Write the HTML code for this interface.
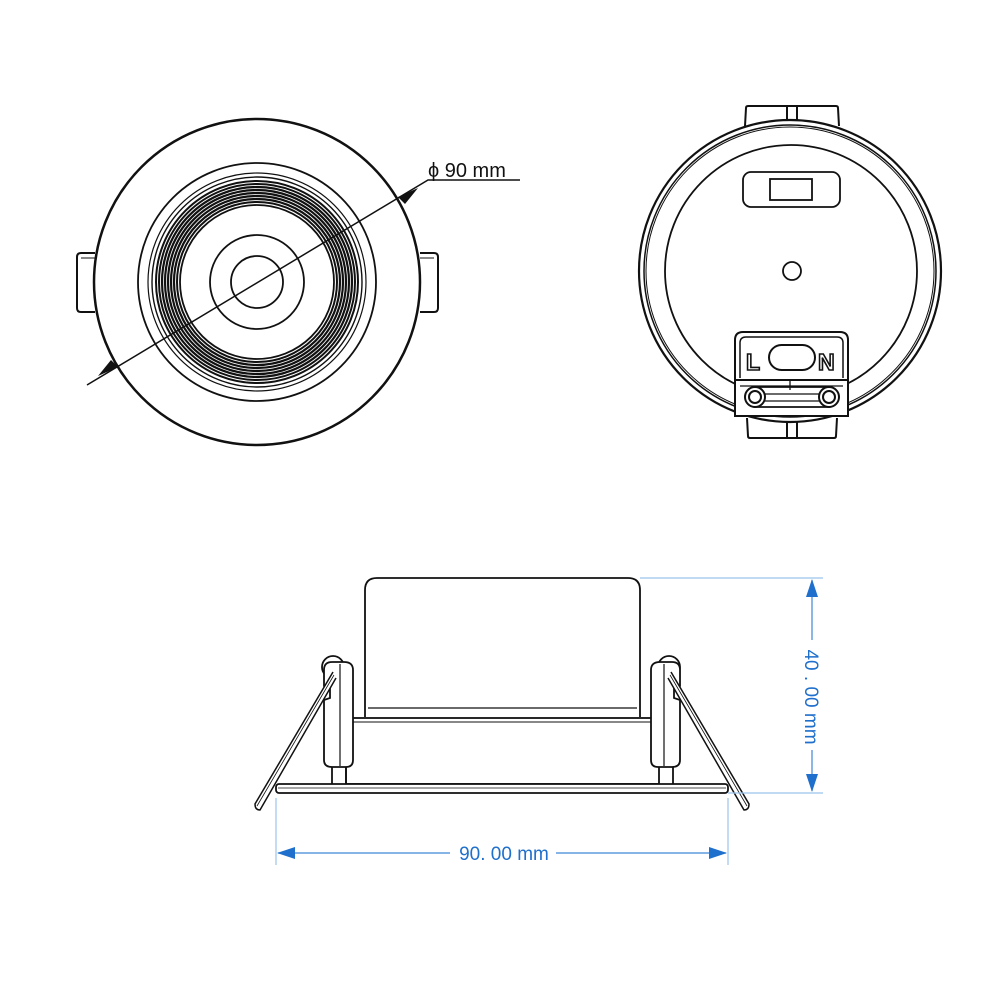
<!DOCTYPE html>
<html><head><meta charset="utf-8"><style>
html,body{margin:0;padding:0;background:#fff;}
svg{display:block;}
</style></head><body>
<svg width="1000" height="1000" viewBox="0 0 1000 1000" xmlns="http://www.w3.org/2000/svg" font-family="Liberation Sans, sans-serif">
<g fill="none" stroke="#111" stroke-width="2">
  <!-- LEFT TOP VIEW -->
  <path d="M95,253 h-14 q-4,0 -4,4 v51 q0,4 4,4 h14" />
  <line x1="81" y1="258" x2="95" y2="258" stroke-width="1"/>
  <path d="M420,253 h14 q4,0 4,4 v51 q0,4 -4,4 h-14" />
  <line x1="420" y1="258" x2="434" y2="258" stroke-width="1"/>
  <circle cx="257" cy="282" r="163" fill="#fff" stroke-width="2.5"/>
  <circle cx="257" cy="282" r="119" stroke-width="1.8"/>
  <circle cx="257" cy="282" r="109" stroke-width="1.2"/>
  <circle cx="257" cy="282" r="105" stroke-width="1.4"/>
  <circle cx="257" cy="282" r="101" stroke-width="2"/>
  <circle cx="257" cy="282" r="98" stroke-width="2"/>
  <circle cx="257" cy="282" r="95" stroke-width="2.2"/>
  <circle cx="257" cy="282" r="92" stroke-width="2.2"/>
  <circle cx="257" cy="282" r="89" stroke-width="2.2"/>
  <circle cx="257" cy="282" r="86" stroke-width="2.2"/>
  <circle cx="257" cy="282" r="83" stroke-width="2.2"/>
  <circle cx="257" cy="282" r="80" stroke-width="2"/>
  <circle cx="257" cy="282" r="77" stroke-width="1.8"/>
  <circle cx="257" cy="282" r="47" stroke-width="1.8"/>
  <circle cx="257" cy="282" r="26" stroke-width="1.8"/>
  <path d="M87,385 L428,180 H520" stroke-width="1.5"/>
</g>
<polygon points="118,367 98,376 111,360" fill="#111"/>
<polygon points="398,197 418,188 405,204" fill="#111"/>
<text x="428" y="177" font-size="20" fill="#111">ϕ 90 mm</text>

<!-- RIGHT BACK VIEW -->
<g fill="none" stroke="#111" stroke-width="2">
  <path d="M745,126 L746,108 Q746,106 748,106 H836 Q838,106 838,108 L839,126" fill="#fff"/>
  <line x1="787" y1="106" x2="787" y2="124"/><line x1="797" y1="106" x2="797" y2="124"/>
  <path d="M747,418 L748,436 Q748,438 750,438 H834 Q836,438 836,436 L837,418" fill="#fff"/>
  <line x1="787" y1="420" x2="787" y2="438"/><line x1="797" y1="420" x2="797" y2="438"/>
  <circle cx="790" cy="271" r="151" fill="#fff" stroke-width="2.2"/>
  <circle cx="790" cy="271" r="146" stroke-width="1.5"/>
  <circle cx="790" cy="271" r="144" stroke-width="1"/>
  <circle cx="791" cy="271" r="126" stroke-width="1.8"/>
  <rect x="743" y="172" width="97" height="35" rx="8" stroke-width="1.8"/>
  <rect x="770" y="179" width="42" height="21" stroke-width="1.8"/>
  <circle cx="792" cy="271" r="9" stroke-width="1.8"/>
  <path d="M735,382 V340 Q735,332 743,332 H840 Q848,332 848,340 V382" fill="#fff"/>
  <path d="M740,378 V343 Q740,337 746,337 H837 Q843,337 843,343 V378" stroke-width="1.5"/>
  <rect x="769" y="345" width="46" height="25" rx="12.5" stroke-width="2"/>
  <rect x="735" y="380" width="113" height="36" fill="#fff"/>
  <line x1="740" y1="386" x2="843" y2="386" stroke-width="1.3"/>
  <line x1="790" y1="380" x2="790" y2="390" stroke-width="1.3"/>
  <rect x="746" y="387" width="92" height="20" rx="10" stroke-width="1.8"/>
  <line x1="765" y1="394" x2="820" y2="394" stroke-width="1.3"/>
  <line x1="765" y1="401" x2="820" y2="401" stroke-width="1.3"/>
  <circle cx="755" cy="397" r="10" fill="#fff"/>
  <circle cx="755" cy="397" r="6"/>
  <circle cx="829" cy="397" r="10" fill="#fff"/>
  <circle cx="829" cy="397" r="6"/>
</g>
<text x="746" y="370" font-size="23" font-weight="bold" fill="#fff" stroke="#111" stroke-width="1.6">L</text>
<text x="818" y="370" font-size="23" font-weight="bold" fill="#fff" stroke="#111" stroke-width="1.6">N</text>

<!-- SIDE VIEW -->
<g fill="none" stroke="#111" stroke-width="1.8">
  <path d="M365,717 V590 Q365,578 377,578 H628 Q640,578 640,590 V717"/>
  <line x1="368" y1="708" x2="637" y2="708" stroke-width="1.2"/>
  <rect x="346" y="718" width="313" height="66" fill="#fff"/>
  <line x1="346" y1="722" x2="659" y2="722" stroke-width="1"/>
  <line x1="332" y1="767" x2="332" y2="784"/><line x1="346" y1="767" x2="346" y2="784"/>
  <line x1="673" y1="767" x2="673" y2="784"/>
  <rect x="276" y="784" width="452" height="9" rx="3" fill="#fff"/>
  <line x1="278" y1="788" x2="726" y2="788" stroke-width="0.8"/>
  <circle cx="333" cy="667" r="11" fill="#fff"/>
  <path d="M324,670 Q324,662 332,662 H344 Q353,662 353,670 V760 Q353,767 346,767 H332 Q324,767 324,760 V700 L330,698 V688 L324,686 Z" fill="#fff"/>
  <line x1="340" y1="664" x2="340" y2="766" stroke-width="1.2"/>
  <path d="M333,672 L255,804 Q255,810 260,810 L336,678" fill="#fff" stroke-width="1.5"/>
  <line x1="334" y1="675" x2="257" y2="806" stroke-width="0.8"/>
  <circle cx="669" cy="667" r="11" fill="#fff"/>
  <path d="M680,670 Q680,662 672,662 H660 Q651,662 651,670 V760 Q651,767 658,767 H672 Q680,767 680,760 V700 L674,698 V688 L680,686 Z" fill="#fff"/>
  <line x1="664" y1="664" x2="664" y2="766" stroke-width="1.2"/>
  <path d="M671,672 L749,804 Q749,810 744,810 L668,678" fill="#fff" stroke-width="1.5"/>
  <line x1="670" y1="675" x2="747" y2="806" stroke-width="0.8"/>
</g>

<!-- BLUE DIMENSIONS -->
<g stroke="#9cc3ec" stroke-width="1.2">
  <line x1="640" y1="578" x2="823" y2="578"/>
  <line x1="728" y1="793" x2="823" y2="793"/>
  <line x1="276" y1="798" x2="276" y2="865"/>
  <line x1="728" y1="798" x2="728" y2="865"/>
</g>
<g stroke="#3f86d6" stroke-width="1.2">
  <line x1="812" y1="580" x2="812" y2="640"/>
  <line x1="812" y1="750" x2="812" y2="791"/>
  <line x1="278" y1="853" x2="450" y2="853"/>
  <line x1="556" y1="853" x2="726" y2="853"/>
</g>
<g fill="#1f6fcc">
  <polygon points="812,579 806,597 818,597"/>
  <polygon points="812,792 806,774 818,774"/>
  <polygon points="277,853 295,847 295,859"/>
  <polygon points="727,853 709,847 709,859"/>
</g>
<text x="504" y="860" font-size="19" fill="#1f6fcc" text-anchor="middle">90. 00 mm</text>
<text transform="translate(805,697) rotate(90)" font-size="19" fill="#1f6fcc" text-anchor="middle">40 . 00 mm</text>
</svg>
</body></html>
